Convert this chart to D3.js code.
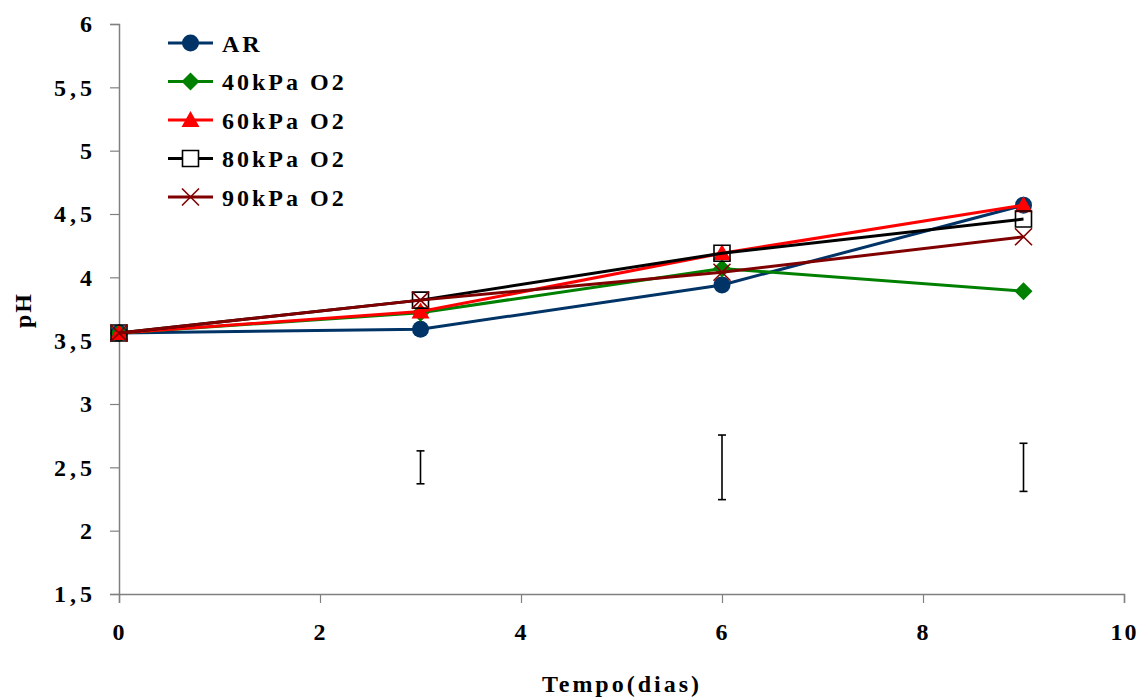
<!DOCTYPE html>
<html>
<head>
<meta charset="utf-8">
<script src="https://cdn.jsdelivr.net/npm/d3@7"></script>
<style>
  body { margin: 0; background: #fff; }
</style>
</head>
<body>
<div id="chart"></div>
<script>
// data
const days = [0, 3, 6, 9]
const seriesNames = ["AR", "40kPa O2", "60kPa O2", "80kPa O2", "90kPa O2"]
const arValues = [3.56, 3.59, 3.94, 4.57]
const kpa40Values = [3.56, 3.72, 4.07, 3.89]
const kpa60Values = [3.56, 3.73, 4.19, 4.57]
const kpa80Values = [3.56, 3.82, 4.19, 4.46]
const kpa90Values = [3.56, 3.82, 4.04, 4.32]
const errorDays = [3, 6, 9]
const errorLow = [2.37, 2.245, 2.31]
const errorHigh = [2.63, 2.755, 2.69]
const xTicks = [0, 2, 4, 6, 8, 10]
const yTicks = [1.5, 2, 2.5, 3, 3.5, 4, 4.5, 5, 5.5, 6]

const colors = ["#003366", "#008000", "#ff0000", "#000000", "#800000"]
const markers = ["circle", "diamond", "triangle", "square", "x"]
const allValues = [arValues, kpa40Values, kpa60Values, kpa80Values, kpa90Values]

const series = seriesNames.map((name, i) => ({
  name: name,
  color: colors[i],
  marker: markers[i],
  values: days.map((d, j) => ({ day: d, ph: allValues[i][j] }))
}))

const fontFamily = "Liberation Serif"

let dimensions = {
  width: 1139,
  height: 697,
  margin: { top: 24, right: 15, bottom: 103, left: 119 },
}
dimensions.boundedWidth = dimensions.width - dimensions.margin.left - dimensions.margin.right
dimensions.boundedHeight = dimensions.height - dimensions.margin.top - dimensions.margin.bottom

const wrapper = d3.select("#chart")
  .append("svg")
    .attr("width", dimensions.width)
    .attr("height", dimensions.height)

const bounds = wrapper.append("g")
  .attr("transform", `translate(${dimensions.margin.left},${dimensions.margin.top})`)

const xScale = d3.scaleLinear()
  .domain([0, 10])
  .range([0, 1005])

const yScale = d3.scaleLinear()
  .domain([1.5, 6])
  .range([dimensions.boundedHeight, 0])

function styleText(sel, spacing) {
  sel.attr("font-family", fontFamily)
    .attr("font-weight", "bold")
    .attr("font-size", 24)
    .attr("letter-spacing", spacing)
    .attr("fill", "#000")
}

// axes
const axisColor = "#808080"
const fmt = d => String(d).replace(".", ",")

const yAxis = bounds.append("g")
  .call(d3.axisLeft(yScale).tickValues(yTicks).tickFormat(fmt).tickSizeOuter(0).tickSize(9).tickPadding(14))
  .attr("font-family", fontFamily)
yAxis.select(".domain").attr("stroke", axisColor).attr("stroke-width", 1.5)
yAxis.selectAll(".tick line").attr("stroke", axisColor).attr("stroke-width", 1.2)
yAxis.selectAll(".tick text").call(styleText, 4)

const xAxis = bounds.append("g")
  .attr("transform", `translate(0,${dimensions.boundedHeight})`)
  .call(d3.axisBottom(xScale).tickValues(xTicks).tickFormat(fmt).tickSizeOuter(0).tickSize(9).tickPadding(20))
  .attr("font-family", fontFamily)
xAxis.select(".domain").attr("stroke", axisColor).attr("stroke-width", 1.5)
xAxis.selectAll(".tick line").attr("stroke", axisColor).attr("stroke-width", 1.2)
xAxis.selectAll(".tick text").call(styleText, 2)

wrapper.append("text")
  .attr("x", 622)
  .attr("y", 692)
  .attr("text-anchor", "middle")
  .call(styleText, 3)
  .text("Tempo(dias)")

wrapper.append("text")
  .attr("transform", "translate(31,310) rotate(-90)")
  .attr("text-anchor", "middle")
  .call(styleText, 2)
  .text("pH")

// error bars
errorDays.forEach((d, i) => {
  const g = bounds.append("g").attr("stroke", "#000").attr("stroke-width", 1.6)
  const x = xScale(d)
  g.append("line").attr("x1", x).attr("x2", x).attr("y1", yScale(errorLow[i])).attr("y2", yScale(errorHigh[i]))
  g.append("line").attr("x1", x - 4).attr("x2", x + 4).attr("y1", yScale(errorLow[i])).attr("y2", yScale(errorLow[i]))
  g.append("line").attr("x1", x - 4).attr("x2", x + 4).attr("y1", yScale(errorHigh[i])).attr("y2", yScale(errorHigh[i]))
})

// marker shapes
function markerPath(type) {
  if (type === "circle") return "M-8.5,0A8.5,8.5 0 1,0 8.5,0A8.5,8.5 0 1,0 -8.5,0Z"
  if (type === "diamond") return "M0,-9L9,0L0,9L-9,0Z"
  if (type === "triangle") return "M0,-9L9,7L-9,7Z"
  if (type === "square") return "M-8,-8H8V8H-8Z"
  return "M-8.5,-8.5L8.5,8.5M8.5,-8.5L-8.5,8.5"
}

function drawMarker(sel, s, legend) {
  const p = sel.append("path").attr("d", markerPath(s.marker))
  if (s.marker === "square") {
    p.attr("fill", legend ? "#fff" : "none").attr("stroke", s.color).attr("stroke-width", 1.6)
  } else if (s.marker === "x") {
    p.attr("fill", "none").attr("stroke", s.color).attr("stroke-width", 1.6)
  } else {
    p.attr("fill", s.color)
  }
}

const lineGenerator = d3.line()
  .x(d => xScale(d.day))
  .y(d => yScale(d.ph))

series.forEach(s => {
  bounds.append("path")
    .attr("d", lineGenerator(s.values))
    .attr("fill", "none")
    .attr("stroke", s.color)
    .attr("stroke-width", 3)
  s.values.forEach(v => {
    const g = bounds.append("g").attr("transform", `translate(${xScale(v.day)},${yScale(v.ph)})`)
    drawMarker(g, s, false)
  })
})

// legend
const legend = wrapper.append("g").attr("transform", "translate(168,43)")
series.forEach((s, i) => {
  const row = legend.append("g").attr("transform", `translate(0,${i * 38.5})`)
  row.append("line").attr("x1", 0).attr("x2", 45).attr("stroke", s.color).attr("stroke-width", 3)
  const m = row.append("g").attr("transform", "translate(22.5,0)")
  drawMarker(m, s, true)
  row.append("text")
    .attr("x", 54)
    .attr("y", 8.5)
    .call(styleText, 3)
    .text(s.name)
})
</script>
</body>
</html>
